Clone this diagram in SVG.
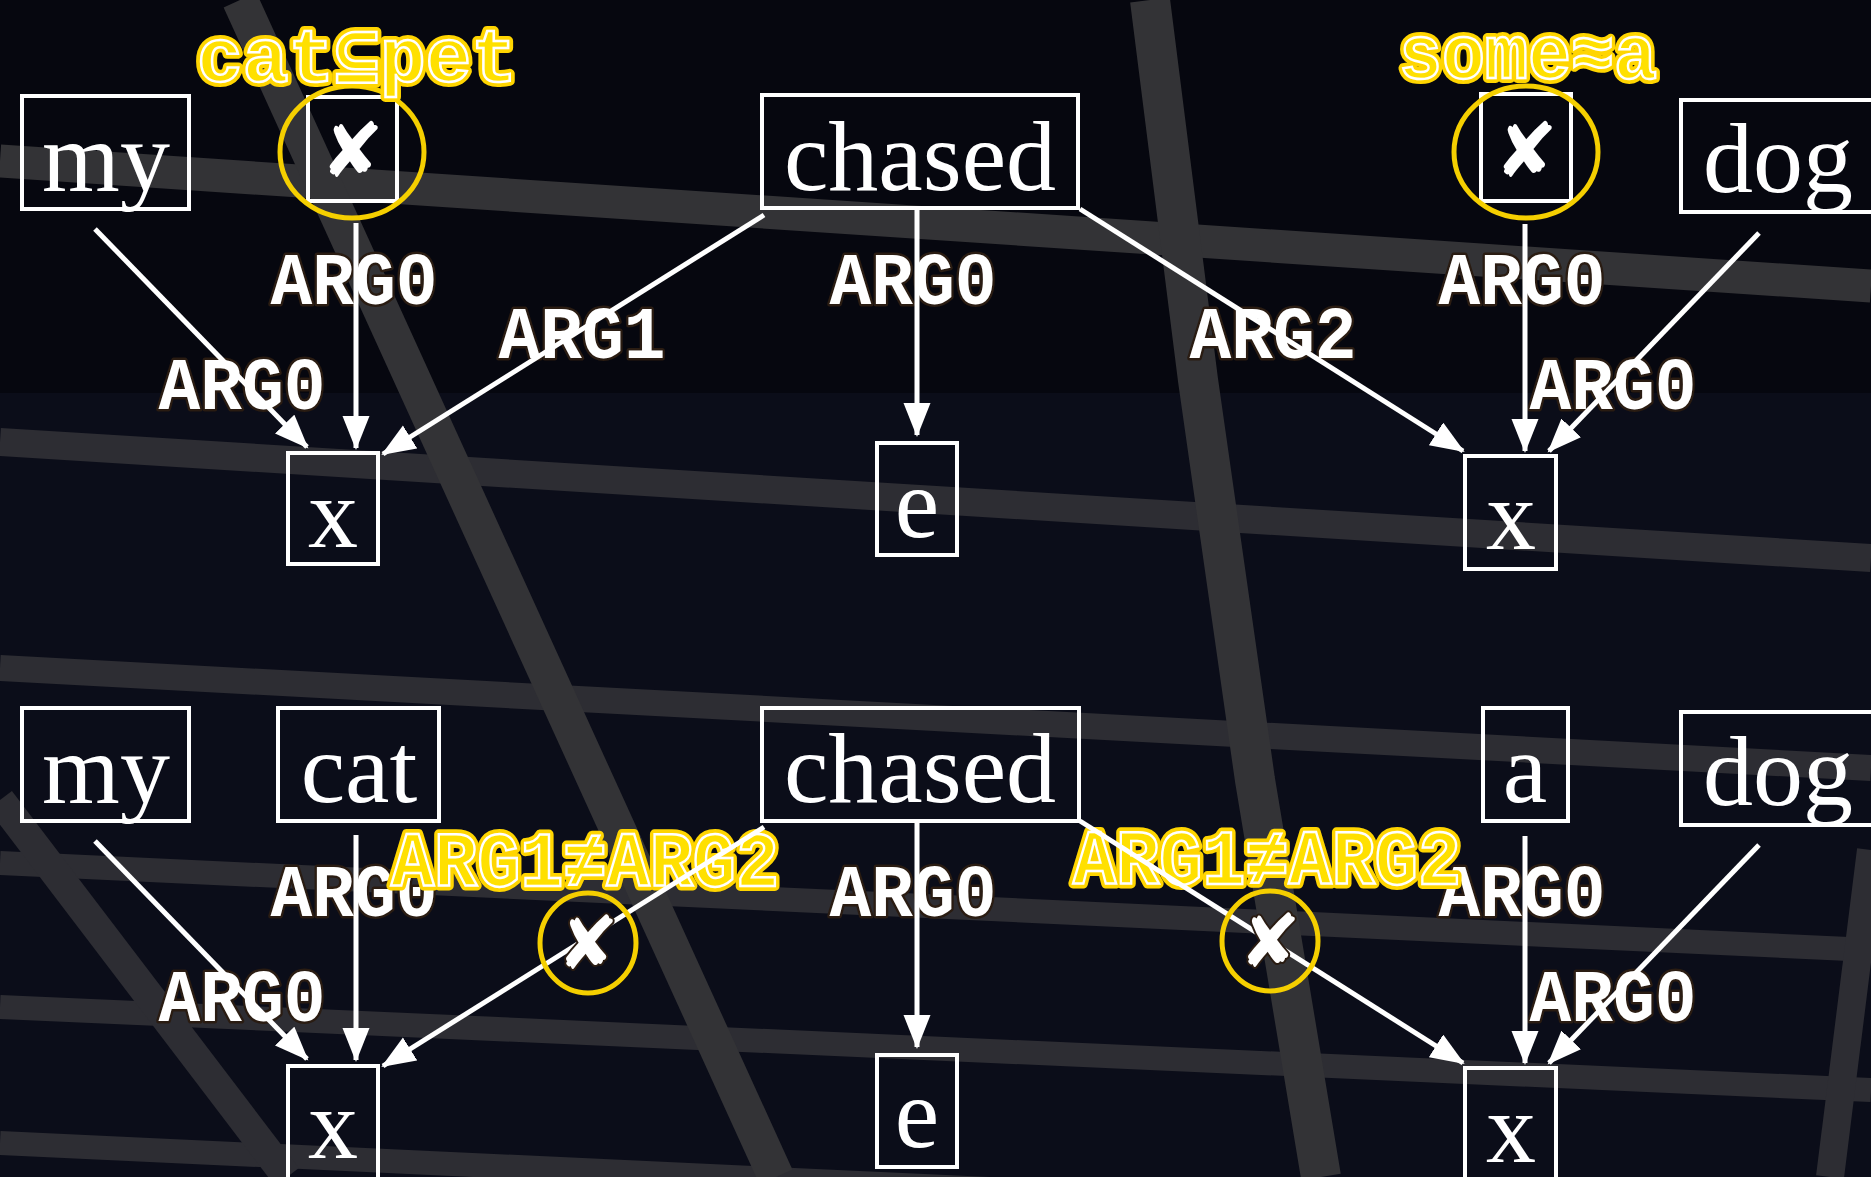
<svg xmlns="http://www.w3.org/2000/svg" width="1871" height="1177" viewBox="0 0 1871 1177">
<style>
.box{fill:none;stroke:#fff;stroke-width:4}
.word{font-family:"Liberation Serif","Times New Roman",serif;font-size:100px;fill:#fff;text-anchor:middle}
.lbl{font-family:"Liberation Mono","DejaVu Sans Mono",monospace;font-weight:bold;font-size:74px;fill:#fff;stroke:#2a1c12;stroke-width:5;paint-order:stroke;text-anchor:middle;stroke-linejoin:round}
.edge{stroke:#fff;stroke-width:5;fill:none;marker-end:url(#ah)}
.yo{font-family:"Liberation Mono","DejaVu Sans Mono",monospace;font-weight:bold;fill:#ffd500;stroke:#ffd500;stroke-width:10;stroke-linejoin:round;text-anchor:middle}
.yi{font-family:"Liberation Mono","DejaVu Sans Mono",monospace;font-weight:bold;fill:#ffe000;stroke:#fff;stroke-width:2.5;text-anchor:middle}
.ring{fill:none;stroke:#f5cf00;stroke-width:5}
.cross{font-family:"DejaVu Sans",sans-serif;fill:#fff;text-anchor:middle}
.crossd{font-family:"DejaVu Sans",sans-serif;fill:#fff;stroke:#2a1c12;stroke-width:4;paint-order:stroke;text-anchor:middle}
.band{stroke:#333336;fill:none}
.bandl{stroke:#2d2d33;fill:none}
</style>
<defs>
<marker id="ah" markerUnits="userSpaceOnUse" markerWidth="36" markerHeight="28" refX="32" refY="13.5" orient="auto" viewBox="0 0 36 28">
<path d="M0,0 L34,13.5 L0,27 z" fill="#fff"/>
</marker>
</defs>
<g id="background">
<rect x="0" y="0" width="1871" height="1177" fill="#06070f"/>
<rect x="0" y="393" width="1871" height="784" fill="#0b0d19"/>
<line class="band" x1="0" y1="161" x2="1871" y2="286" stroke-width="33"/>
<line class="bandl" x1="0" y1="442" x2="1871" y2="558" stroke-width="28"/>
<line class="bandl" x1="0" y1="668" x2="1871" y2="768" stroke-width="26"/>
<line class="bandl" x1="0" y1="863" x2="1871" y2="950" stroke-width="24"/>
<line class="bandl" x1="0" y1="1007" x2="1871" y2="1090" stroke-width="24"/>
<line class="bandl" x1="0" y1="1143" x2="1871" y2="1230" stroke-width="24"/>
<line class="band" x1="240" y1="0" x2="776" y2="1177" stroke-width="36"/>
<polyline class="band" points="1150,0 1198,380 1255,780 1321,1177" stroke-width="40"/>
<line class="bandl" x1="0" y1="800" x2="287" y2="1177" stroke-width="30"/>
<line class="bandl" x1="1871" y1="850" x2="1830" y2="1177" stroke-width="28"/>
</g>
<g id="connectors">
<text class="lbl" x="242" y="409" textLength="167" lengthAdjust="spacingAndGlyphs">ARG0</text>
<text class="lbl" x="354" y="304" textLength="167" lengthAdjust="spacingAndGlyphs">ARG0</text>
<text class="lbl" x="582" y="358" textLength="167" lengthAdjust="spacingAndGlyphs">ARG1</text>
<text class="lbl" x="913" y="304" textLength="167" lengthAdjust="spacingAndGlyphs">ARG0</text>
<text class="lbl" x="1273" y="358" textLength="167" lengthAdjust="spacingAndGlyphs">ARG2</text>
<text class="lbl" x="1522" y="304" textLength="167" lengthAdjust="spacingAndGlyphs">ARG0</text>
<text class="lbl" x="1613" y="409" textLength="167" lengthAdjust="spacingAndGlyphs">ARG0</text>
<line class="edge" x1="95" y1="229" x2="307" y2="447"/>
<line class="edge" x1="356" y1="223" x2="356" y2="448"/>
<line class="edge" x1="764" y1="215" x2="383" y2="454"/>
<line class="edge" x1="917" y1="209" x2="917" y2="435"/>
<line class="edge" x1="1080" y1="209" x2="1463" y2="451"/>
<line class="edge" x1="1525" y1="224" x2="1525" y2="451"/>
<line class="edge" x1="1759" y1="233" x2="1549" y2="451"/>
<text class="lbl" x="242" y="1021" textLength="167" lengthAdjust="spacingAndGlyphs">ARG0</text>
<text class="lbl" x="354" y="916" textLength="167" lengthAdjust="spacingAndGlyphs">ARG0</text>
<text class="lbl" x="913" y="916" textLength="167" lengthAdjust="spacingAndGlyphs">ARG0</text>
<text class="lbl" x="1522" y="916" textLength="167" lengthAdjust="spacingAndGlyphs">ARG0</text>
<text class="lbl" x="1613" y="1021" textLength="167" lengthAdjust="spacingAndGlyphs">ARG0</text>
<text class="yo" x="585" y="886" font-size="78" textLength="388" lengthAdjust="spacingAndGlyphs">ARG1≠ARG2</text>
<text class="yi" x="585" y="886" font-size="78" textLength="388" lengthAdjust="spacingAndGlyphs">ARG1≠ARG2</text>
<text class="yo" x="1267" y="884" font-size="78" textLength="388" lengthAdjust="spacingAndGlyphs">ARG1≠ARG2</text>
<text class="yi" x="1267" y="884" font-size="78" textLength="388" lengthAdjust="spacingAndGlyphs">ARG1≠ARG2</text>
<line class="edge" x1="95" y1="841" x2="307" y2="1059"/>
<line class="edge" x1="356" y1="835" x2="356" y2="1060"/>
<line class="edge" x1="764" y1="827" x2="383" y2="1066"/>
<line class="edge" x1="917" y1="821" x2="917" y2="1047"/>
<line class="edge" x1="1080" y1="821" x2="1463" y2="1063"/>
<line class="edge" x1="1525" y1="836" x2="1525" y2="1063"/>
<line class="edge" x1="1759" y1="845" x2="1549" y2="1063"/>
<g id="blocked-arg1">
<ellipse class="ring" cx="588" cy="943" rx="48" ry="50"/>
<text class="crossd" x="588" y="969" font-size="74">✘</text>
</g>
<g id="blocked-arg2">
<ellipse class="ring" cx="1270" cy="941" rx="48" ry="50"/>
<text class="crossd" x="1270" y="967" font-size="74">✘</text>
</g>
</g>
<g id="top-my"><rect class="box" x="22" y="96" width="167" height="113"/><text class="word" x="106" y="191">my</text></g>
<g id="top-cat-pruned">
<rect class="box" x="308" y="97" width="89" height="104"/>
<text class="cross" x="352" y="177" font-size="76">✘</text>
<ellipse class="ring" cx="352" cy="152" rx="72" ry="66"/>
<text class="yo" x="357" y="81" font-size="76" textLength="320" lengthAdjust="spacingAndGlyphs">cat⊆pet</text>
<text class="yi" x="357" y="81" font-size="76" textLength="320" lengthAdjust="spacingAndGlyphs">cat⊆pet</text>
</g>
<g id="top-chased"><rect class="box" x="762" y="95" width="316" height="113"/><text class="word" x="920" y="190">chased</text></g>
<g id="top-a-pruned">
<rect class="box" x="1481" y="94" width="90" height="107"/>
<text class="cross" x="1526" y="177" font-size="76">✘</text>
<ellipse class="ring" cx="1526" cy="152" rx="72" ry="66"/>
<text class="yo" x="1528" y="78" font-size="76" textLength="258" lengthAdjust="spacingAndGlyphs">some≈a</text>
<text class="yi" x="1528" y="78" font-size="76" textLength="258" lengthAdjust="spacingAndGlyphs">some≈a</text>
</g>
<g id="top-dog"><rect class="box" x="1681" y="100" width="196" height="112"/><text class="word" x="1778" y="192">dog</text></g>
<g id="top-x1"><rect class="box" x="288" y="453" width="90" height="111"/><text class="word" x="333" y="547">x</text></g>
<g id="top-e"><rect class="box" x="877" y="443" width="80" height="112"/><text class="word" x="917" y="537">e</text></g>
<g id="top-x2"><rect class="box" x="1465" y="456" width="91" height="113"/><text class="word" x="1511" y="549">x</text></g>
<g id="bot-my"><rect class="box" x="22" y="708" width="167" height="113"/><text class="word" x="106" y="803">my</text></g>
<g id="bot-cat"><rect class="box" x="278" y="708" width="161" height="113"/><text class="word" x="359" y="802">cat</text></g>
<g id="bot-chased"><rect class="box" x="762" y="708" width="317" height="113"/><text class="word" x="920" y="802">chased</text></g>
<g id="bot-a"><rect class="box" x="1483" y="708" width="85" height="113"/><text class="word" x="1525" y="802">a</text></g>
<g id="bot-dog"><rect class="box" x="1681" y="712" width="196" height="113"/><text class="word" x="1778" y="805">dog</text></g>
<g id="bot-x1"><rect class="box" x="288" y="1066" width="90" height="120"/><text class="word" x="333" y="1158">x</text></g>
<g id="bot-e"><rect class="box" x="877" y="1055" width="80" height="112"/><text class="word" x="917" y="1147">e</text></g>
<g id="bot-x2"><rect class="box" x="1465" y="1068" width="91" height="120"/><text class="word" x="1511" y="1162">x</text></g>
</svg>
